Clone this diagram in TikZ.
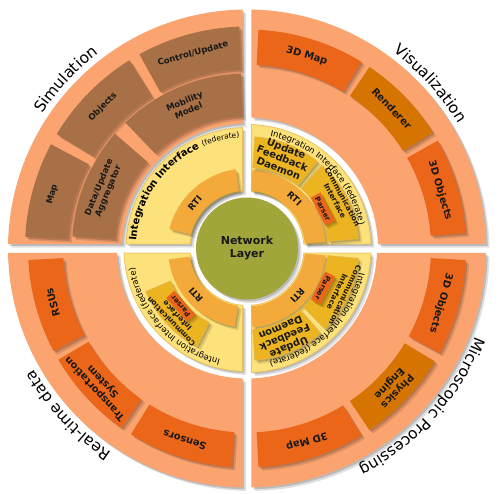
\documentclass[tikz,border=0pt]{standalone}
\usepackage{fontspec}
\setmainfont{DejaVu Sans}
\usetikzlibrary{decorations.text}

\definecolor{salmon}{RGB}{252,164,112}
\definecolor{brownbox}{RGB}{167,112,70}
\definecolor{orangebox}{RGB}{236,102,26}
\definecolor{amberbox}{RGB}{214,116,2}
\definecolor{paleyellow}{RGB}{253,225,122}
\definecolor{yellowedge}{RGB}{232,196,92}
\definecolor{rtiorange}{RGB}{243,170,58}
\definecolor{goldbox}{RGB}{236,180,32}
\definecolor{netgreen}{RGB}{160,166,58}

\newcommand{\ringpart}[5][]{\path[#1] (#2:#4) arc[start angle=#2, end angle=#3, radius=#4] -- (#3:#5) arc[start angle=#3, end angle=#2, radius=#5] -- cycle;}
\newcommand{\quadring}[4][]{%
  \pgfmathsetmacro{\qouter}{asin(4.5/#4)}%
  \pgfmathsetmacro{\qinner}{asin(4.5/#3)}%
  \path[#1] (#2+\qouter:#4) arc[start angle=#2+\qouter, end angle=#2+90-\qouter, radius=#4]
    -- (#2+90-\qinner:#3) arc[start angle=#2+90-\qinner, end angle=#2+\qinner, radius=#3] -- cycle;}

\begin{document}
\begin{tikzpicture}[x=1pt,y=1pt,
    shadowed/.style={preaction={fill=black,opacity=.12,transform canvas={xshift=3.5pt,yshift=-3.5pt}},
      preaction={fill=black,opacity=.16,transform canvas={xshift=1.8pt,yshift=-1.8pt}}},
    salmonq/.style={fill=salmon,shadowed},
    brownq/.style={fill=brownbox,shadowed},
    orangeq/.style={fill=orangebox,shadowed},
    amberq/.style={fill=amberbox,shadowed},
    yellowq/.style={fill=paleyellow,draw=yellowedge,line width=.8pt,shadowed},
    rtiq/.style={fill=rtiorange,shadowed},
    goldq/.style={fill=goldbox,draw=yellowedge!80!brown,line width=.5pt,shadowed},
    simlabel/.style={font=\bfseries\fontsize{8.5}{10}\selectfont,align=center,text=black!90},
    boxlabel/.style={font=\bfseries\fontsize{10}{11}\selectfont,align=center,text=black!90},
    rtilabel/.style={font=\bfseries\fontsize{9}{10}\selectfont,text=black!90},
    commlabel/.style={font=\bfseries\fontsize{7.5}{8.5}\selectfont,align=center,text=black!90},
    daemonlabel/.style={font=\bfseries\fontsize{10}{10.5}\selectfont,align=center,text=black!90},
    parserbox/.style={fill=orangebox,shadowed,font=\bfseries\fontsize{7}{8}\selectfont,text=black!90,
      inner xsep=3pt,inner ysep=1pt,minimum height=11pt},
    ringtitle/.style={decorate,decoration={text along path,text align=center,
      text={|\fontsize{15.5}{18}\selectfont|#1}}},
    fedtext/.style={decorate,decoration={text along path,text align=center,
      text={|\fontsize{8.5}{10}\selectfont|Integration Interface (federate)}}}]
  \path[use as bounding box,fill=white] (-247,-244.5) rectangle (253,248.5);

  \quadring[salmonq]{90}{125}{239}
  \quadring[salmonq]{0}{131}{239}
  \quadring[salmonq]{180}{130}{239}
  \quadring[salmonq]{-90}{130}{239}

  \path[ringtitle=Simulation] (170:245) arc[start angle=170, end angle=104, radius=245];
  \path[ringtitle=Visualization] (80:245) arc[start angle=80, end angle=4, radius=245];
  \path[ringtitle=Microscopic Processing] (0:245) arc[start angle=0, end angle=-84, radius=245];
  \path[ringtitle=Real-time data] (-100:245) arc[start angle=-100, end angle=-174, radius=245];

  \ringpart[brownq]{152}{177}{179}{222}
  \ringpart[brownq]{122}{149}{179}{222}
  \ringpart[brownq]{92}{119}{179}{222}
  \ringpart[brownq]{139}{176}{132}{175}
  \ringpart[brownq]{92}{134}{132}{175}
  \node[simlabel,rotate=164.5-90] (map) at (164.5:202) {Map};
  \node[simlabel,rotate=135.5-90] (objects) at (135.5:202) {Objects};
  \node[simlabel,rotate=105.5-90] (control) at (105.5:202) {Control/Update};
  \node[simlabel,rotate=157.5-90] (aggregator) at (157.5:155) {Data/Update\\Aggregator};
  \node[simlabel,rotate=113-90] (mobility) at (113:155) {Mobility\\Model};

  \ringpart[orangeq]{58.5}{87}{184}{219}
  \ringpart[amberq]{32}{56}{184}{219}
  \ringpart[orangeq]{4}{29.5}{184}{219}
  \node[boxlabel,rotate=72.75-90] (vmap) at (72.75:201.5) {3D Map};
  \node[boxlabel,rotate=44-90] (renderer) at (44:201.5) {Renderer};
  \node[boxlabel,rotate=16.75-90] (vobjects) at (16.75:201.5) {3D Objects};

  \ringpart[orangeq]{-177}{-152}{184}{219}
  \ringpart[orangeq]{-149.5}{-125}{184}{219}
  \ringpart[orangeq]{-122}{-94}{184}{219}
  \node[boxlabel,rotate=-164.5-90] (rsus) at (-164.5:201.5) {RSUs};
  \node[boxlabel,rotate=-137.25-90] (transport) at (-137.25:201.5) {Transportation\\System};
  \node[boxlabel,rotate=-108-90] (sensors) at (-108:201.5) {Sensors};

  \ringpart[orangeq]{-3}{-28.5}{184}{219}
  \ringpart[amberq]{-31}{-56}{184}{219}
  \ringpart[orangeq]{-58.5}{-87}{184}{219}
  \node[boxlabel,rotate=-15.75-90] (mobjects) at (-15.75:201.5) {3D Objects};
  \node[boxlabel,rotate=-43.5-90] (physics) at (-43.5:201.5) {Physics\\Engine};
  \node[boxlabel,rotate=-72.75-90] (mmap) at (-72.75:201.5) {3D Map};

  \quadring[yellowq]{90}{57}{121}
  \ringpart[rtiq]{98}{166}{58}{80}
  \node[rtilabel,rotate=139-90] (rti1) at (139:69) {RTI};
  \path[decorate,decoration={text along path,text align=center,
    text={|\bfseries\fontsize{10}{12}\selectfont|Integration Interface |\fontsize{7.5}{9}\selectfont|(federate)}}]
    (185:111) arc[start angle=185, end angle=85, radius=111];

  \quadring[yellowq]{0}{57}{124}
  \ringpart[rtiq]{5}{86}{58}{79}
  \ringpart[goldq]{51}{86}{81}{112}
  \ringpart[goldq]{5}{48}{81}{112}
  \node[rtilabel,rotate=46.5-90] (rti2) at (46.5:69) {RTI};
  \node[daemonlabel,rotate=68.5-90] (daemon2) at (68.5:97) {Update\\Feedback\\Daemon};
  \node[commlabel,rotate=28.5-90] (comm2) at (28.5:104.5) {Communication\\Interface};
  \node[parserbox,rotate=27.5-90] (parser2) at (27.5:85.5) {Parser};
  \path[fedtext] (95:114.5) arc[start angle=95, end angle=-5, radius=114.5];

  \quadring[yellowq]{-90}{57}{124}
  \ringpart[rtiq]{-86}{-5}{58}{79}
  \ringpart[goldq]{-86}{-49}{81}{112}
  \ringpart[goldq]{-46}{-5}{81}{112}
  \node[rtilabel,rotate=-43-90] (rti4) at (-43:69) {RTI};
  \node[daemonlabel,rotate=-67-90] (daemon4) at (-67:97) {Update\\Feedback\\Daemon};
  \node[commlabel,rotate=-25.5-90] (comm4) at (-25.5:104.5) {Communication\\Interface};
  \node[parserbox,rotate=-27.5-90] (parser4) at (-27.5:85.5) {Parser};
  \path[fedtext] (0:114.5) arc[start angle=0, end angle=-91, radius=114.5];

  \quadring[yellowq]{180}{57}{123}
  \ringpart[rtiq]{-172}{-99}{58}{79}
  \ringpart[goldq]{-157}{-117}{83}{110}
  \node[rtilabel,rotate=-138-90] (rti3) at (-138:69) {RTI};
  \node[commlabel,rotate=-136-90] (comm3) at (-136:101.5) {Communication\\Interface};
  \node[parserbox,rotate=-139-90] (parser3) at (-139:88) {Parser};
  \path[fedtext] (-87:114) arc[start angle=-87, end angle=-187, radius=114];

  \node[circle,fill=netgreen,shadowed,minimum size=102pt,align=center,
    font=\bfseries\fontsize{11}{13}\selectfont,text=black!90] (net) at (0,0) {Network\\Layer};
\end{tikzpicture}
\end{document}
